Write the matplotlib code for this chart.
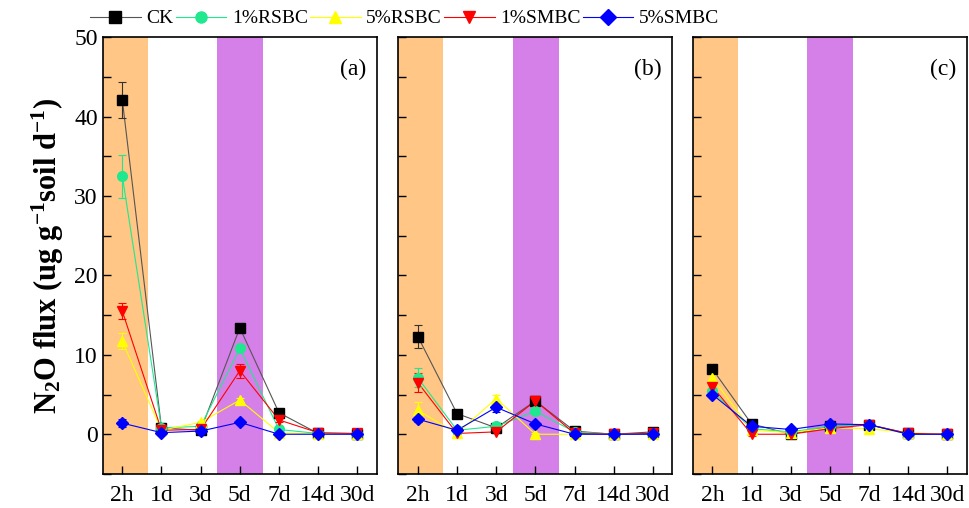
import numpy as np
import matplotlib
matplotlib.use("Agg")
import matplotlib.pyplot as plt
from matplotlib.ticker import MultipleLocator

plt.rcParams['font.family'] = ['Liberation Serif', 'DejaVu Serif']
plt.rcParams['mathtext.fontset'] = 'custom'
plt.rcParams['mathtext.rm'] = 'Liberation Serif'
plt.rcParams['mathtext.bf'] = 'Liberation Serif:bold'
plt.rcParams['mathtext.default'] = 'regular'

times = ['2h', '1d', '3d', '5d', '7d', '14d', '30d']
series = ['CK', '1%RSBC', '5%RSBC', '1%SMBC', '5%SMBC']
colors = ['black', '#1FE88F', '#FFFF00', '#FF0000', '#0000FF']
markers = ['s', 'o', '^', 'v', 'D']
panel_labels = ['(a)', '(b)', '(c)']

# panel (a)
a_ck = [42.1, 0.8, 0.5, 13.4, 2.7, 0.1, 0.0]
a_rs1 = [32.5, 0.8, 1.0, 10.8, 0.6, 0.1, 0.0]
a_rs5 = [11.7, 0.5, 1.5, 4.3, 0.2, 0.0, 0.0]
a_sm1 = [15.5, 0.5, 0.6, 8.0, 1.8, 0.2, 0.1]
a_sm5 = [1.4, 0.2, 0.4, 1.5, 0.0, 0.0, 0.0]
a_err_ck = [2.3, 0.2, 0.2, 0.3, 0.3, 0.1, 0.1]
a_err_rs1 = [2.7, 0.2, 0.2, 0.3, 0.2, 0.1, 0.1]
a_err_rs5 = [1.0, 0.2, 0.2, 0.3, 0.1, 0.1, 0.1]
a_err_sm1 = [1.0, 0.2, 0.2, 0.9, 0.3, 0.1, 0.1]
a_err_sm5 = [0.5, 0.1, 0.2, 0.2, 0.1, 0.1, 0.1]

# panel (b)
b_ck = [12.3, 2.6, 0.8, 4.2, 0.4, 0.0, 0.3]
b_rs1 = [7.1, 0.5, 1.0, 2.9, 0.3, 0.0, 0.0]
b_rs5 = [3.0, 0.1, 4.5, 0.0, 0.0, 0.0, 0.0]
b_sm1 = [6.5, 0.1, 0.3, 4.2, 0.1, 0.0, 0.1]
b_sm5 = [1.9, 0.5, 3.4, 1.3, 0.0, 0.0, 0.0]
b_err_ck = [1.5, 0.2, 0.2, 0.3, 0.1, 0.1, 0.1]
b_err_rs1 = [1.2, 0.2, 0.2, 0.3, 0.1, 0.1, 0.1]
b_err_rs5 = [1.0, 0.1, 0.4, 0.1, 0.1, 0.1, 0.1]
b_err_sm1 = [1.2, 0.1, 0.2, 0.3, 0.1, 0.1, 0.1]
b_err_sm5 = [0.3, 0.2, 0.6, 0.2, 0.1, 0.1, 0.1]

# panel (c)
c_ck = [8.2, 1.3, 0.0, 1.0, 1.2, 0.1, 0.0]
c_rs1 = [5.4, 0.7, 0.3, 1.0, 1.2, 0.0, 0.0]
c_rs5 = [7.1, 0.5, 0.2, 0.8, 0.7, 0.2, 0.0]
c_sm1 = [6.0, 0.0, 0.0, 0.7, 1.2, 0.1, 0.0]
c_sm5 = [5.0, 1.0, 0.6, 1.3, 1.2, 0.0, 0.0]
c_err_ck = [0.3, 0.2, 0.1, 0.2, 0.2, 0.1, 0.1]
c_err_rs1 = [0.3, 0.2, 0.1, 0.2, 0.2, 0.1, 0.1]
c_err_rs5 = [0.3, 0.2, 0.1, 0.2, 0.2, 0.1, 0.1]
c_err_sm1 = [0.3, 0.2, 0.1, 0.2, 0.2, 0.1, 0.1]
c_err_sm5 = [0.3, 0.2, 0.1, 0.2, 0.2, 0.1, 0.1]

panels = [
    ([a_ck, a_rs1, a_rs5, a_sm1, a_sm5], [a_err_ck, a_err_rs1, a_err_rs5, a_err_sm1, a_err_sm5]),
    ([b_ck, b_rs1, b_rs5, b_sm1, b_sm5], [b_err_ck, b_err_rs1, b_err_rs5, b_err_sm1, b_err_sm5]),
    ([c_ck, c_rs1, c_rs5, c_sm1, c_sm5], [c_err_ck, c_err_rs1, c_err_rs5, c_err_sm1, c_err_sm5]),
]

fig = plt.figure(figsize=(9.69, 5.08), dpi=100)
lefts = [0.106, 0.411, 0.715]
x = np.arange(len(times))
handles = []
for i, (vals, errs) in enumerate(panels):
    ax = fig.add_axes([lefts[i], 0.067, 0.283, 0.86])
    ax.axvspan(-0.5, 0.65, color='#FFC685', lw=0, zorder=0)
    ax.axvspan(2.42, 3.6, color='#D580E8', lw=0, zorder=0)
    for j in range(len(series)):
        lc = '#555555' if j == 0 else colors[j]
        ax.plot(x, vals[j], color=lc, lw=0.8, zorder=2)
        ax.errorbar(x, vals[j], yerr=errs[j], fmt='none', ecolor=colors[j] if j else '#333333',
                    elinewidth=0.8, capsize=3, capthick=0.8, zorder=3)
        ax.plot(x, vals[j], ls='none', marker=markers[j], color=colors[j],
                markersize=7 if markers[j] != 'D' else 6.5, zorder=4)
        if i == 0:
            h, = plt.plot([], [], color=lc, lw=0.8, marker=markers[j],
                          markerfacecolor=colors[j], markeredgecolor=colors[j], markersize=8)
            handles.append(h)
    ax.set_xlim(-0.5, 6.5)
    ax.set_ylim(-5, 50)
    ax.set_xticks(x)
    ax.set_xticklabels(times, fontsize=17)
    ax.yaxis.set_major_locator(MultipleLocator(10))
    ax.yaxis.set_minor_locator(MultipleLocator(5))
    ax.tick_params(axis='both', which='both', direction='in', labelsize=17, width=1, length=6)
    ax.tick_params(axis='x', pad=8)
    if i > 0:
        ax.tick_params(axis='y', labelleft=False)
    for s in ax.spines.values():
        s.set_linewidth(1.2)
    ax.text(0.96, 0.95, panel_labels[i], transform=ax.transAxes, ha='right', va='top', fontsize=17)
    if i == 0:
        ax.set_ylabel(r'N$_2$O flux (ug g$^{-1}$soil d$^{-1}$)', fontsize=22, fontweight='bold', labelpad=6)

fig.legend(handles, series, loc='upper left', bbox_to_anchor=(0.075, 1.015), ncol=5, frameon=False,
           fontsize=14, handlelength=2.6, handletextpad=0.3, columnspacing=0.1)

plt.savefig('out.png', dpi=100)
